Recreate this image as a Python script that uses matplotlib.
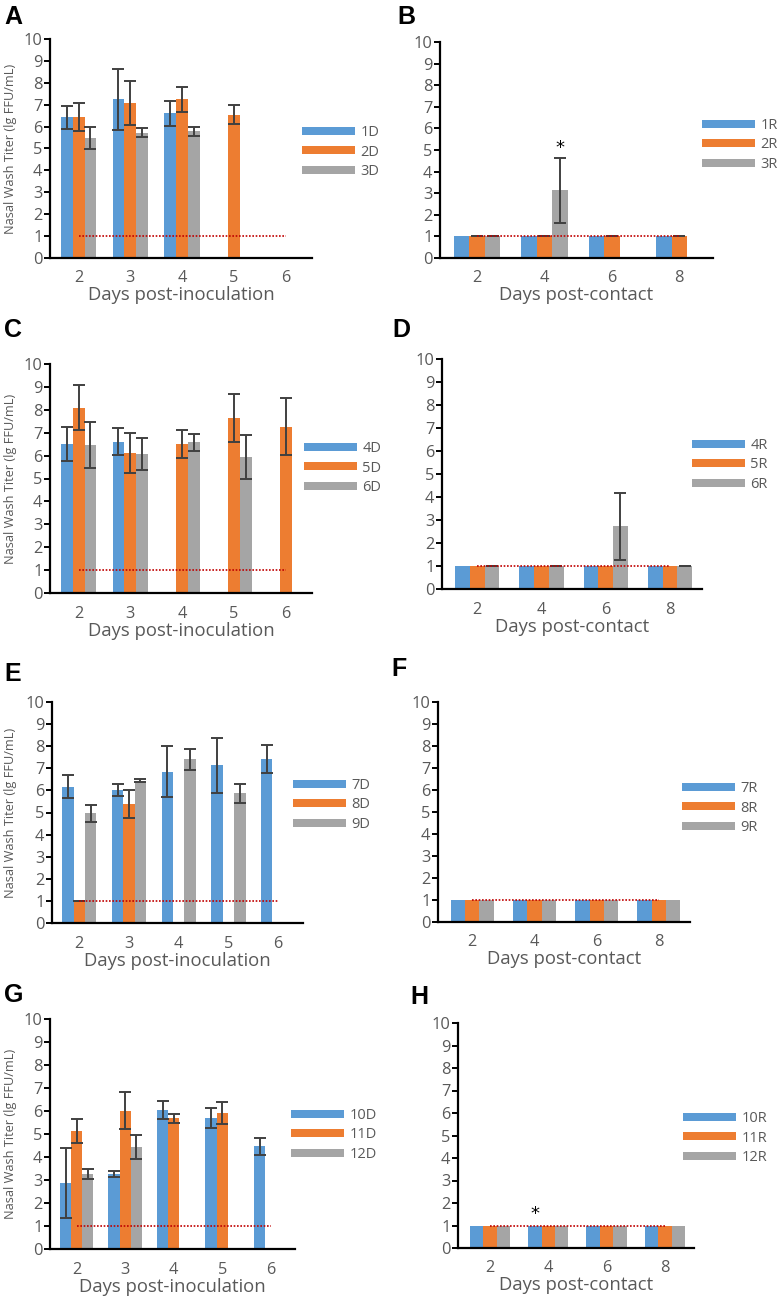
import numpy as np
import matplotlib
matplotlib.use("Agg")
import matplotlib.pyplot as plt

plt.rcParams["font.family"] = ["Open Sans", "DejaVu Sans"]

nan = np.nan

# ---------------- datos ----------------
days_inoc = [2, 3, 4, 5, 6]
days_contact = [2, 4, 6, 8]

# A - donors 1D/2D/3D
a_1d = [6.42, 7.24, 6.60, nan, nan]
a_1d_err = [0.52, 1.40, 0.55, 0, 0]
a_2d = [6.45, 7.06, 7.24, 6.55, nan]
a_2d_err = [0.65, 1.00, 0.57, 0.42, 0]
a_3d = [5.49, 5.72, 5.79, nan, nan]
a_3d_err = [0.50, 0.20, 0.20, 0, 0]

# B - contacts 1R/2R/3R
b_1r = [1, 1, 1, 1]
b_2r = [1, 1, 1, 1]
b_3r = [1, 3.13, nan, nan]
b_3r_err = [0, 1.50, 0, 0]

# C - donors 4D/5D/6D
c_4d = [6.51, 6.61, nan, nan, nan]
c_4d_err = [0.73, 0.58, 0, 0, 0]
c_5d = [8.10, 6.10, 6.50, 7.66, 7.27]
c_5d_err = [1.00, 0.87, 0.62, 1.05, 1.23]
c_6d = [6.47, 6.06, 6.58, 5.93, nan]
c_6d_err = [1.00, 0.70, 0.36, 0.97, 0]

# D - contacts 4R/5R/6R
d_4r = [1, 1, 1, 1]
d_5r = [1, 1, 1, 1]
d_6r = [1, 1, 2.73, 1]
d_6r_err = [0, 0, 1.45, 0]

# E - donors 7D/8D/9D
e_7d = [6.17, 6.02, 6.85, 7.13, 7.41]
e_7d_err = [0.52, 0.27, 1.15, 1.26, 0.64]
e_8d = [1.0, 5.37, nan, nan, nan]
e_8d_err = [0, 0.63, 0, 0, 0]
e_9d = [4.96, 6.44, 7.41, 5.87, nan]
e_9d_err = [0.38, 0.08, 0.47, 0.42, 0]

# F - contacts 7R/8R/9R
f_7r = [1, 1, 1, 1]
f_8r = [1, 1, 1, 1]
f_9r = [1, 1, 1, 1]

# G - donors 10D/11D/12D
g_10d = [2.87, 3.26, 6.05, 5.69, 4.46]
g_10d_err = [1.52, 0.11, 0.40, 0.43, 0.37]
g_11d = [5.14, 6.02, 5.69, 5.93, nan]
g_11d_err = [0.51, 0.82, 0.19, 0.48, 0]
g_12d = [3.26, 4.43, nan, nan, nan]
g_12d_err = [0.22, 0.52, 0, 0, 0]

# H - contacts 10R/11R/12R
h_10r = [1, 1, 1, 1]
h_11r = [1, 1, 1, 1]
h_12r = [1, 1, 1, 1]

limite = 1  # limite de deteccion

# ---------------- estilo ----------------
COLORES = ["#5B9BD5", "#ED7D31", "#A5A5A5"]
GRIS_TXT = "#595959"
W, H = 780, 1299

fig = plt.figure(figsize=(W / 100, H / 100), dpi=100)


def panel(caja, letra, letra_xy, dias, series, errores, etiquetas, ley_xy,
          xlabel, ylabel=True, estrellas=()):
    izq, der, y10, y0 = caja
    ax = fig.add_axes([izq / W, 1 - y0 / H, (der - izq) / W, (y0 - y10) / H])
    x = np.arange(len(dias))
    ancho = 0.23
    barras = []
    for i, (vals, err) in enumerate(zip(series, errores)):
        pos = x + (i - 1) * ancho
        b = ax.bar(pos, vals, width=ancho, color=COLORES[i], zorder=2)
        barras.append(b)
        if err is not None:
            err = np.array(err, dtype=float)
            vals = np.array(vals, dtype=float)
            m = ~np.isnan(vals)
            ax.errorbar(pos[m], vals[m], yerr=err[m], fmt="none",
                        ecolor="#404040", elinewidth=1.4, capsize=4.5,
                        capthick=1.4, zorder=3)
    ax.plot([x[0], x[-1]], [limite, limite], color="#C00000", lw=1.2,
            linestyle=(0, (1, 1)), zorder=4)
    for (xs, ys) in estrellas:
        ax.text(xs, ys, "*", ha="center", va="center", fontsize=13,
                color="black", family="DejaVu Sans")

    ax.set_xlim(-0.55, len(dias) - 0.5)
    ax.set_ylim(0, 10)
    ax.set_yticks(range(0, 11))
    ax.set_xticks(x)
    ax.set_xticklabels([str(d) for d in dias])
    for s in ["top", "right"]:
        ax.spines[s].set_visible(False)
    for s in ["left", "bottom"]:
        ax.spines[s].set_linewidth(1.6)
    ax.tick_params(axis="y", length=4, width=1.4, labelsize=11.8,
                   labelcolor=GRIS_TXT, pad=1.5)
    ax.tick_params(axis="x", length=0, labelsize=11.8, labelcolor=GRIS_TXT,
                   pad=9)
    ax.set_xlabel(xlabel, fontsize=13.3, color=GRIS_TXT, labelpad=0)
    if ylabel:
        ax.set_ylabel("Nasal Wash Titer (lg FFU/mL)", fontsize=9.2,
                      color=GRIS_TXT)
        ax.yaxis.set_label_coords(-(izq - 17) / (der - izq), 0.5)

    lx, ly = ley_xy
    ax.legend(barras, etiquetas, loc="center left",
              bbox_to_anchor=(lx / W, 1 - ly / H),
              bbox_transform=fig.transFigure, frameon=False, fontsize=10.5,
              handlelength=3.6, handleheight=0.5, handletextpad=0.4,
              labelspacing=0.3, borderpad=0, borderaxespad=0,
              labelcolor=GRIS_TXT)

    fig.text(letra_xy[0] / W, 1 - letra_xy[1] / H, letra, fontsize=18,
             fontweight="bold", family="Liberation Sans", ha="left",
             va="center")
    return ax


panel((50, 312, 39, 258), "A", (4, 17), days_inoc,
      [a_1d, a_2d, a_3d], [a_1d_err, a_2d_err, a_3d_err],
      ["1D", "2D", "3D"], (302, 152), "Days post-inoculation")

panel((440, 713, 42, 258), "B", (397, 17), days_contact,
      [b_1r, b_2r, b_3r], [None, [0, 0, 0, 0], b_3r_err],
      ["1R", "2R", "3R"], (702, 145), "Days post-contact", ylabel=False,
      estrellas=[(1 + 0.23, 5.1)])

panel((50, 312, 364, 593), "C", (4, 330), days_inoc,
      [c_4d, c_5d, c_6d], [c_4d_err, c_5d_err, c_6d_err],
      ["4D", "5D", "6D"], (304, 468), "Days post-inoculation")

panel((442, 702, 359, 589), "D", (392, 330), days_contact,
      [d_4r, d_5r, d_6r], [None, None, d_6r_err],
      ["4R", "5R", "6R"], (692, 465), "Days post-contact", ylabel=False)

panel((52, 303, 702, 923), "E", (4, 674), days_inoc,
      [e_7d, e_8d, e_9d], [e_7d_err, e_8d_err, e_9d_err],
      ["7D", "8D", "9D"], (293, 805), "Days post-inoculation")

panel((438, 690, 702, 922), "F", (391, 669), days_contact,
      [f_7r, f_8r, f_9r], [None, None, None],
      ["7R", "8R", "9R"], (682, 808), "Days post-contact", ylabel=False)

panel((50, 295, 1019, 1249), "G", (4, 995), days_inoc,
      [g_10d, g_11d, g_12d], [g_10d_err, g_11d_err, g_12d_err],
      ["10D", "11D", "12D"], (291, 1135), "Days post-inoculation")

panel((458, 694, 1023, 1248), "H", (410, 997), days_contact,
      [h_10r, h_11r, h_12r], [None, None, None],
      ["10R", "11R", "12R"], (683, 1138), "Days post-contact", ylabel=False,
      estrellas=[(1 - 0.23, 1.5)])

fig.savefig("out.png", dpi=100)
plt.close(fig)
